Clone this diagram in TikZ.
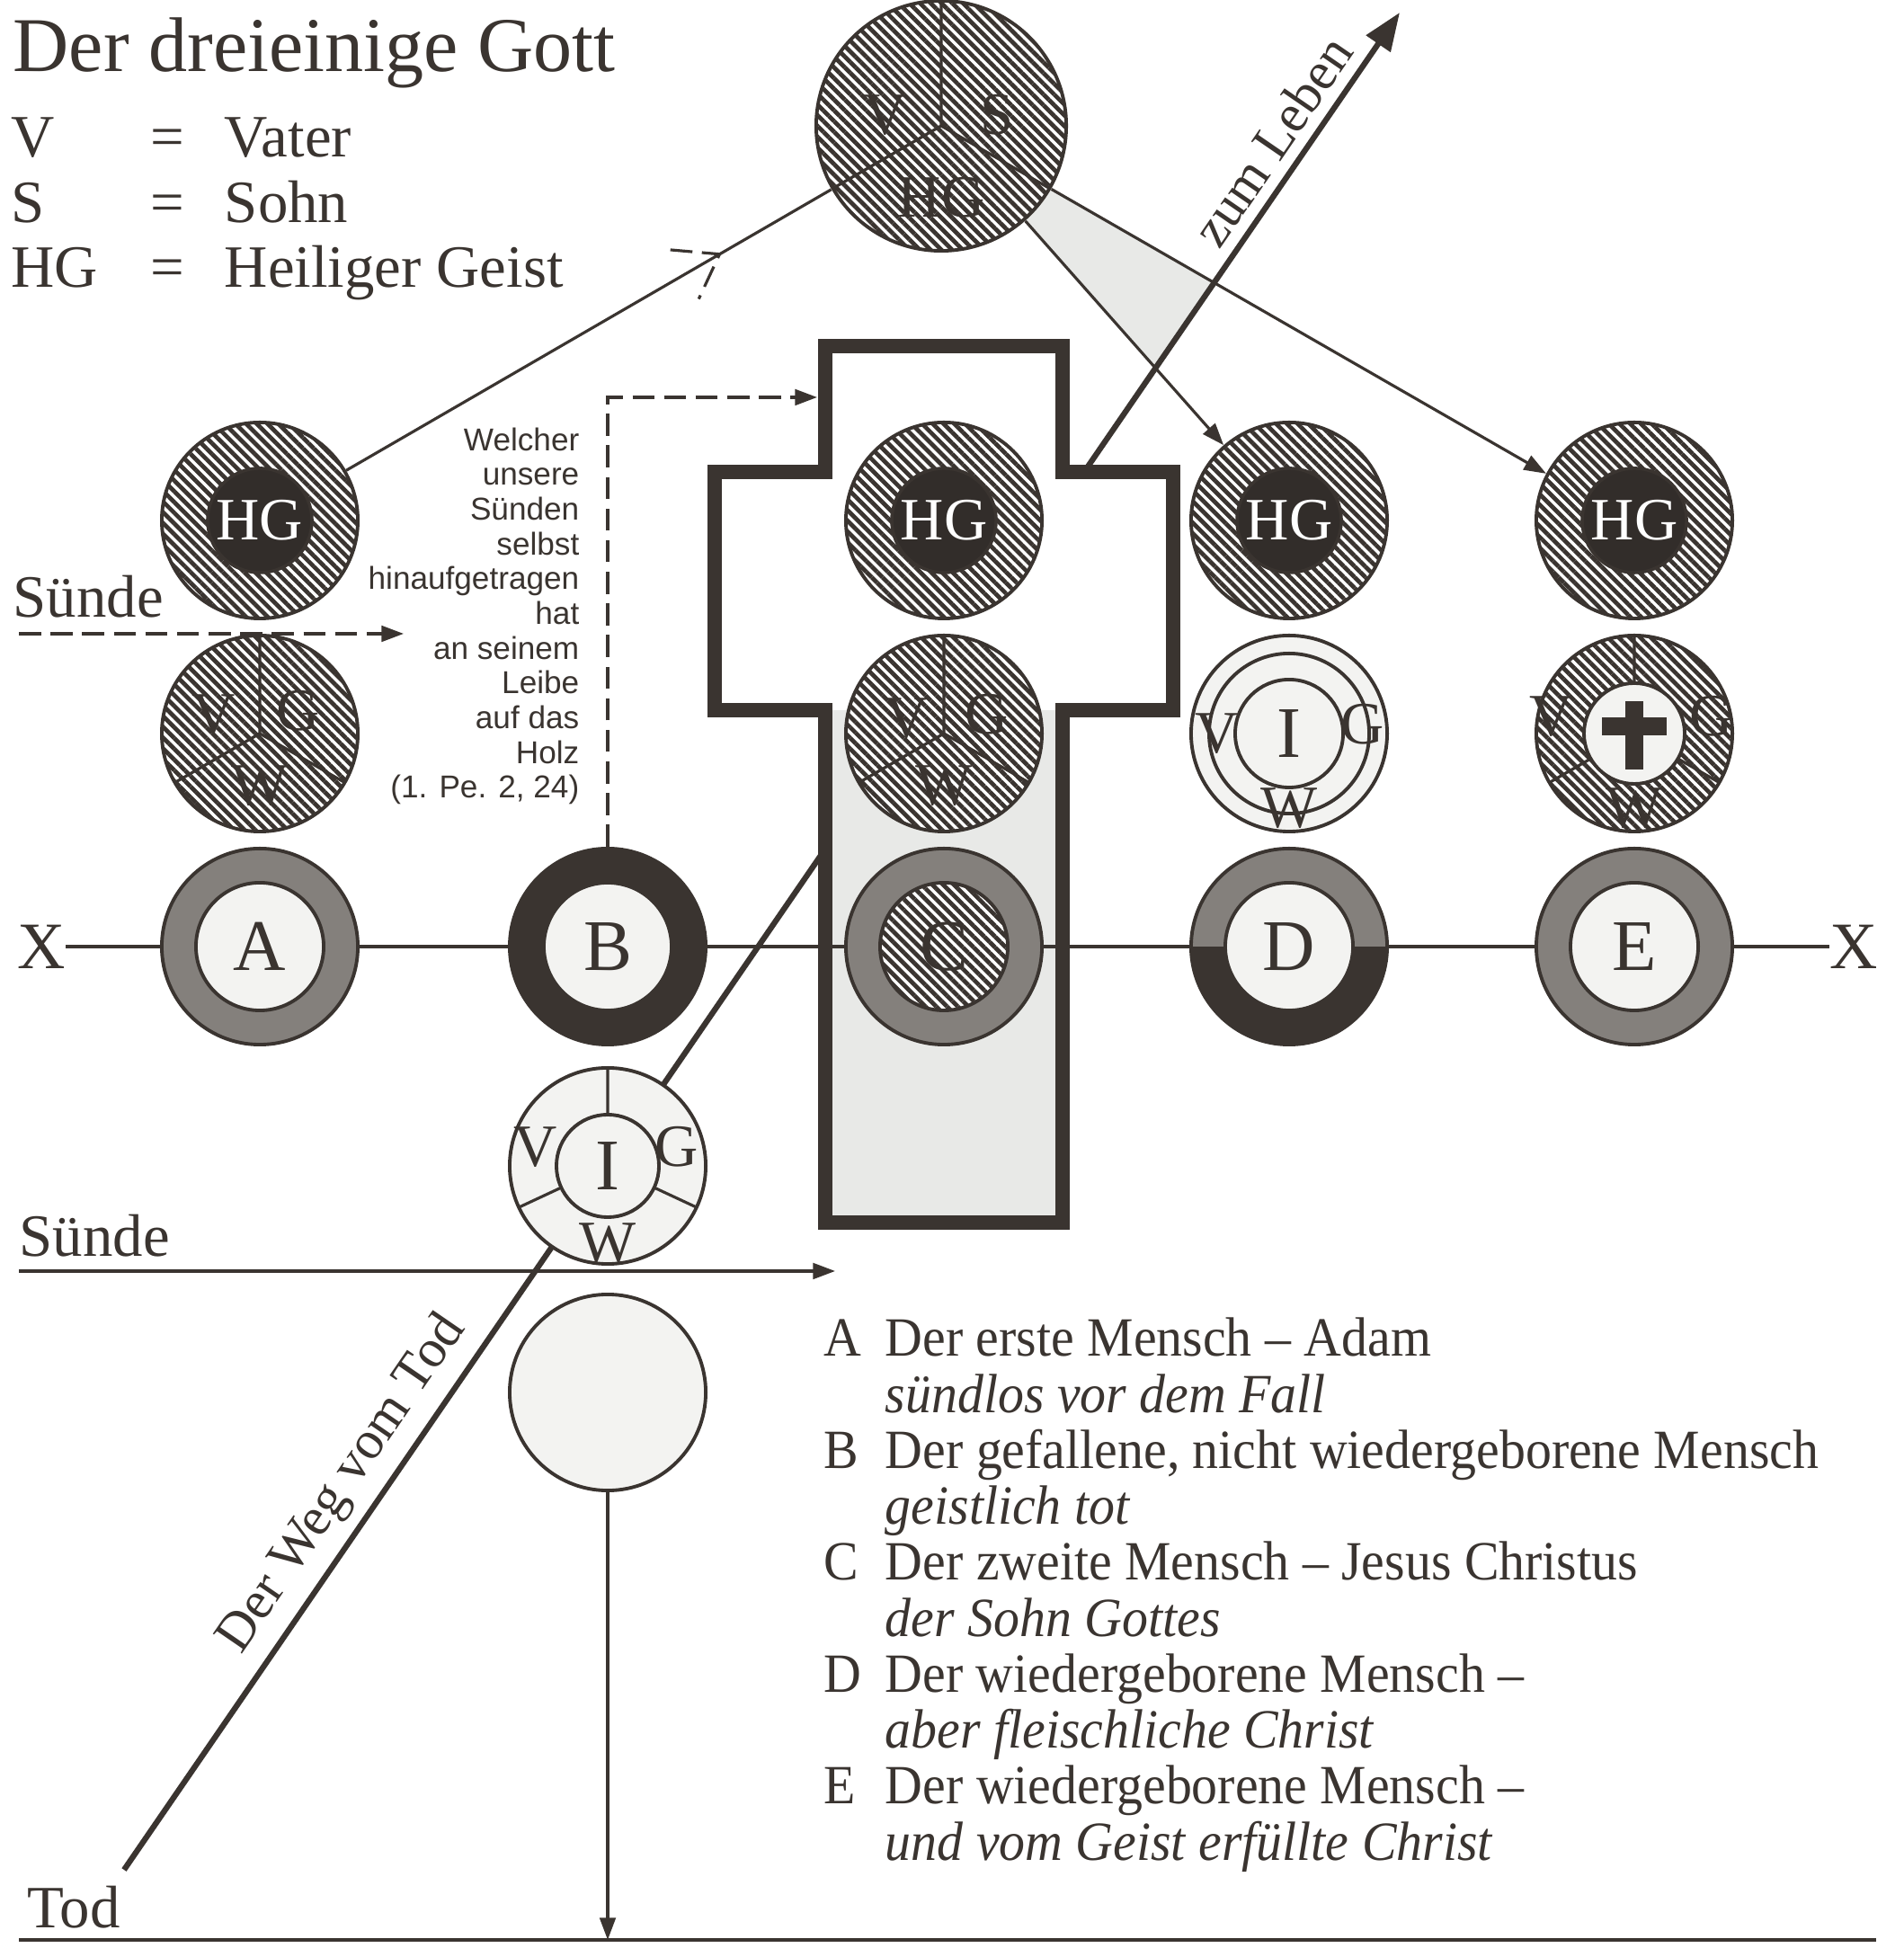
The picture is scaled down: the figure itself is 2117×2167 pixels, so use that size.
\documentclass[tikz,border=0pt]{standalone}
\usepackage{fontspec}
\setmainfont{Liberation Serif}
\setsansfont{Liberation Sans}
\newfontfamily\keyfont[FakeStretch=0.94]{Liberation Serif}
\usetikzlibrary{positioning,calc,patterns.meta,arrows.meta,backgrounds}

\definecolor{ink}{RGB}{58,52,48}
\definecolor{paper}{RGB}{243,243,241}
\definecolor{pale}{RGB}{232,233,231}
\definecolor{stipgray}{RGB}{132,128,124}
\definecolor{darkdisk}{RGB}{50,45,42}

\tikzset{
  circ/.style={circle, draw=ink, line width=1.1pt, minimum size=2.18cm, inner sep=0pt},
  hatch/.style={preaction={fill=white}, pattern={Lines[angle=-45,distance=2.4pt,line width=1.35pt]}, pattern color=ink},
  stip/.style={fill=stipgray},
  core/.style={circle, draw=ink, line width=1.1pt, minimum size=1.42cm, inner sep=0pt, fill=paper, text=ink, font=\fontsize{23}{23}\selectfont},
  hgcore/.style={circle, draw=ink, line width=1pt, minimum size=1.16cm, inner sep=0pt, fill=darkdisk, text=white, font=\fontsize{19}{19}\selectfont},
  glyph/.style={text=ink, inner sep=0pt, font=\fontsize{19}{19}\selectfont},
  spoke/.style={draw=ink, line width=0.9pt},
  trine/.style={path picture={\draw[spoke] (path picture bounding box.center) -- ++(90:150) (path picture bounding box.center) -- ++(180+#1:150) (path picture bounding box.center) -- ++(-#1:150);}},
  trine/.default=30,
  halfring/.style={path picture={\fill[stipgray] (path picture bounding box.west) rectangle (path picture bounding box.north east); \fill[ink] (path picture bounding box.west) rectangle (path picture bounding box.south east);}},
  conn/.style={draw=ink, line width=0.9pt},
  arr/.style={-{Triangle[length=7pt,width=5pt]}},
  dashln/.style={dash pattern=on 7pt off 3pt},
  lbl/.style={text=ink, inner sep=0pt, font=\fontsize{19}{19}\selectfont},
  way/.style={sloped, above, text=ink, font=\fontsize{17}{17}\selectfont},
  quote/.style={align=right, inner sep=0pt, text=ink, font=\sffamily\fontsize{10}{11}\selectfont},
}

\begin{document}
\begin{tikzpicture}[x=0.01cm, y=0.01cm]
  \useasboundingbox (0,0) rectangle (2117,2167) ;

  % der dreieinige Gott
  \node[circ, hatch, trine, minimum size=2.78cm] (God) at (1047,2027) {} ; %
  \node[glyph] at ($(God)+(-62,12)$) {V} ; %
  \node[glyph] at ($(God)+(62,12)$) {S} ; %
  \node[glyph] at ($(God)+(0,-80)$) {HG} ; %

  % A
  \node[circ, stip] (A) at (289,1114) {} ; %
  \node[core] at (A) {A} ; %
  \node[circ, hatch, trine, above=0.15cm of A] (Aw) {} ; %
  \node[glyph] at ($(Aw)+(-51,21)$) {V} ; %
  \node[glyph] at ($(Aw)+(43,25)$) {G} ; %
  \node[glyph] at ($(Aw)+(0,-58)$) {W} ; %
  \node[circ, hatch, above=0.15cm of Aw] (Ah) {} ; %
  \node[hgcore] at (Ah) {HG} ; %

  % B
  \node[circ, fill=ink] (B) at (676,1114) {} ; %
  \node[core] at (B) {B} ; %
  \node[circ, fill=paper, trine=25, below=0.22cm of B] (Bv) {} ; %
  \node[core, minimum size=1.14cm] at (Bv) {I} ; %
  \node[glyph] at ($(Bv)+(-80,21)$) {V} ; %
  \node[glyph] at ($(Bv)+(77,21)$) {G} ; %
  \node[glyph] at ($(Bv)+(0,-86)$) {W} ; %
  \node[circ, fill=paper, below=0.3cm of Bv] (Bo) {} ; %

  % C
  \node[circ, stip] (C) at (1050,1114) {} ; %
  \node[core, hatch] at (C) {C} ; %
  \node[circ, hatch, trine, above=0.15cm of C] (Cw) {} ; %
  \node[glyph] at ($(Cw)+(-41,17)$) {V} ; %
  \node[glyph] at ($(Cw)+(48,21)$) {G} ; %
  \node[glyph] at ($(Cw)+(0,-58)$) {W} ; %
  \node[circ, hatch, above=0.15cm of Cw] (Ch) {} ; %
  \node[hgcore] at (Ch) {HG} ; %

  % D
  \node[circ, halfring] (D) at (1434,1114) {} ; %
  \node[core] at (D) {D} ; %
  \node[circ, fill=paper, above=0.15cm of D] (Dw) {} ; %
  \node[circ, minimum size=1.78cm] at (Dw) {} ; %
  \node[core, minimum size=1.2cm] at (Dw) {I} ; %
  \node[glyph] at ($(Dw)+(-80,0)$) {V} ; %
  \node[glyph] at ($(Dw)+(82,10)$) {G} ; %
  \node[glyph] at ($(Dw)+(0,-83)$) {W} ; %
  \node[circ, hatch, above=0.15cm of Dw] (Dh) {} ; %
  \node[hgcore] at (Dh) {HG} ; %

  % E
  \node[circ, stip] (E) at (1818,1114) {} ; %
  \node[core] at (E) {E} ; %
  \node[circ, hatch, trine, above=0.15cm of E] (Ew) {} ; %
  \node[core, minimum size=1.12cm] at (Ew) {} ; %
  \fill[ink] ($(Ew)+(-10,-40)$) rectangle ($(Ew)+(10,36)$) ; %
  \fill[ink] ($(Ew)+(-36,-2)$) rectangle ($(Ew)+(36,18)$) ; %
  \node[glyph] at ($(Ew)+(-92,19)$) {V} ; %
  \node[glyph] at ($(Ew)+(86,19)$) {G} ; %
  \node[glyph] at ($(Ew)+(0,-83)$) {W} ; %
  \node[circ, hatch, above=0.15cm of Ew] (Eh) {} ; %
  \node[hgcore] at (Eh) {HG} ; %

  % Texte
  \node[lbl, anchor=base west, font=\fontsize{24.5}{24.5}\selectfont] (title) at (14,2087) {Der dreieinige Gott} ; %
  \node[lbl, anchor=base west, font=\fontsize{19}{20.5}\selectfont] (names) at (12,1992)
    {\begin{tabular}[t]{@{}l@{\hspace{16.5pt}}c@{\hspace{12.8pt}}l@{}}
      V & = & Vater\\ S & = & Sohn\\ HG & = & Heiliger Geist
     \end{tabular}} ; %
  \node[quote, above left=0.46cm and 0.31cm of B.north] (verse)
    {Welcher\\unsere\\Sünden\\selbst\\hinaufgetragen\\hat\\an seinem\\Leibe\\auf das\\Holz\\(1. Pe. 2, 24)} ; %
  \node[lbl, anchor=base west] (sin1) at (14,1480) {Sünde} ; %
  \node[lbl, anchor=base west] (sin2) at (21,769) {Sünde} ; %
  \node[lbl, anchor=base west] (tod) at (30,22) {Tod} ; %
  \node[lbl, font=\fontsize{21}{21}\selectfont] (Xl) at (46,1114) {X} ; %
  \node[lbl, font=\fontsize{21}{21}\selectfont] (Xr) at (2062,1114) {X} ; %
  \node[lbl, anchor=base west, font=\keyfont\fontsize{17.5}{17.7}\selectfont] (key) at (916,658)
    {\begin{tabular}[t]{@{}l@{\hspace{7.5pt}}l@{}}
      A & Der erste Mensch – Adam\\ & \itshape sündlos vor dem Fall\\
      B & Der gefallene, nicht wiedergeborene Mensch\\ & \itshape geistlich tot\\
      C & Der zweite Mensch – Jesus Christus\\ & \itshape der Sohn Gottes\\
      D & Der wiedergeborene Mensch –\\ & \itshape aber fleischliche Christ\\
      E & Der wiedergeborene Mensch –\\ & \itshape und vom Geist erfüllte Christ
     \end{tabular}} ; %

  \coordinate (wegA) at (138,87) ; %
  \coordinate (wegB) at (1557,2153) ; %
  \coordinate (s1a) at (21,1462) ; %
  \coordinate (s1b) at (449,1462) ; %
  \coordinate (s2a) at (21,753) ; %
  \coordinate (s2b) at (929,753) ; %
  \coordinate (todl) at (21,9) ; %
  \coordinate (todr) at (2087,9) ; %
  \coordinate (stem) at (909,1725) ; %

  \begin{scope}[on background layer]
    \fill[pale] (God.center) -- (intersection of God.center--Eh.152 and wegA--wegB)
      -- (intersection of God.center--Dh.131 and wegA--wegB) -- cycle ; %
    \draw[ink, line width=1.8pt, -{Triangle[length=12pt,width=9pt]}] (wegA)
      -- node[way, pos=0.196] {Der Weg vom Tod} node[way, pos=0.921] {zum Leben} (wegB) ; %
    % das Kreuz
    \filldraw[draw=ink, fill=white, line width=4.5pt] (918,1782) -| (1182,1642) -| (1305,1377)
      -| (1182,807) -| (918,1377) -| (795,1642) -| (918,1782) -- cycle ; %
    \fill[pale] (926,815) rectangle (1174,1377) ; %

    \draw[conn] (Xl) -- (Xr) ; %
    \draw[conn] (Ah) -- coordinate[pos=0.77] (chev) (God) ; %
    \draw[conn, dashln] ($(chev)+(175:55)$) -- (chev) -- ($(chev)+(245:55)$) ; %
    \draw[conn, arr] (God) -- (Dh.131) ; %
    \draw[conn, arr] (God) -- (Eh.152) ; %
    \draw[conn, dashln, arr] (s1a) -- (s1b) ; %
    \draw[conn, dashln, arr] (B.north) |- (stem) ; %
    \draw[conn, arr] (s2a) -- (s2b) ; %
    \draw[conn, arr] (Bo) -- (Bo |- todl) ; %
    \draw[conn] (todl) -- (todr) ; %
  \end{scope}
\end{tikzpicture}
\end{document}
